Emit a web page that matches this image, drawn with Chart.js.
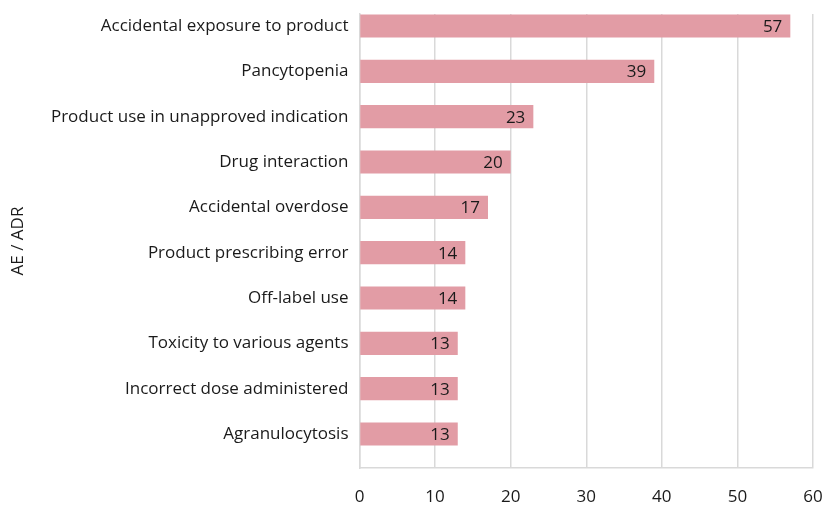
<!DOCTYPE html>
<html>
<head>
<meta charset="utf-8">
<script src="https://cdn.jsdelivr.net/npm/chart.js@4.4.1/dist/chart.umd.min.js"></script>
<style>
  html, body { margin: 0; padding: 0; background: #fff; }
  #wrap { width: 825px; height: 505px; }
</style>
</head>
<body>
<div id="wrap"><canvas id="aeChart" width="825" height="505"></canvas></div>
<script>
// Most frequently reported events, top to bottom
const categories = [
  'Accidental exposure to product',
  'Pancytopenia',
  'Product use in unapproved indication',
  'Drug interaction',
  'Accidental overdose',
  'Product prescribing error',
  'Off-label use',
  'Toxicity to various agents',
  'Incorrect dose administered',
  'Agranulocytosis'
];
const counts = [57, 39, 23, 20, 17, 14, 14, 13, 13, 13];
const xTicks = [0, 10, 20, 30, 40, 50, 60];

const FONT = '"Open Sans", "Noto Sans", sans-serif';
const TEXT = '#1a1a1a';
const GRID = '#d9d9d9';

// numeric y positions so the bars sit like the original layout
const points = counts.map((v, i) => ({ x: v, y: i }));

// value text drawn inside the right end of each bar
const barValues = {
  id: 'barValues',
  afterDatasetsDraw(chart) {
    const ctx = chart.ctx;
    const meta = chart.getDatasetMeta(0);
    ctx.save();
    ctx.font = '17px ' + FONT;
    ctx.fillStyle = TEXT;
    ctx.textAlign = 'right';
    ctx.textBaseline = 'middle';
    meta.data.forEach((bar, i) => {
      ctx.fillText(String(counts[i]), bar.x - 8, bar.y + 1);
    });
    ctx.restore();
  }
};

new Chart(document.getElementById('aeChart').getContext('2d'), {
  type: 'bar',
  data: {
    datasets: [{
      data: points,
      backgroundColor: '#e29ca5',
      borderWidth: 0,
      barPercentage: 0.51,
      categoryPercentage: 1
    }]
  },
  options: {
    indexAxis: 'y',
    responsive: false,
    animation: false,
    layout: { padding: { top: 14, right: 12, bottom: 0, left: 0 } },
    plugins: { legend: { display: false }, tooltip: { enabled: false } },
    scales: {
      x: {
        type: 'linear',
        min: 0, max: 60,
        afterBuildTicks: s => { s.ticks = xTicks.map(v => ({ value: v })); },
        afterFit: s => { s.height = 37; s.paddingLeft = 0; s.paddingRight = 0; },
        grid: { color: GRID, lineWidth: 1.5, drawTicks: false },
        border: { color: GRID, width: 1.5 },
        ticks: { color: TEXT, font: { family: FONT, size: 17 }, padding: 19 }
      },
      y: {
        type: 'linear',
        reverse: true,
        offset: false,
        min: -0.265, max: 9.75,
        afterBuildTicks: s => { s.ticks = categories.map((c, i) => ({ value: i })); },
        afterFit: s => { s.width = 359.5; s.paddingTop = 0; s.paddingBottom = 0; },
        grid: { display: false, offset: false },
        border: { color: GRID, width: 1.5 },
        ticks: {
          color: TEXT,
          font: { family: FONT, size: 17 },
          padding: 3,
          autoSkip: false,
          callback: v => categories[v]
        },
        title: {
          display: true,
          text: 'AE / ADR',
          color: TEXT,
          font: { family: FONT, size: 17 },
          padding: { top: 8, bottom: 0 }
        }
      }
    }
  },
  plugins: [barValues]
});
</script>
</body>
</html>
